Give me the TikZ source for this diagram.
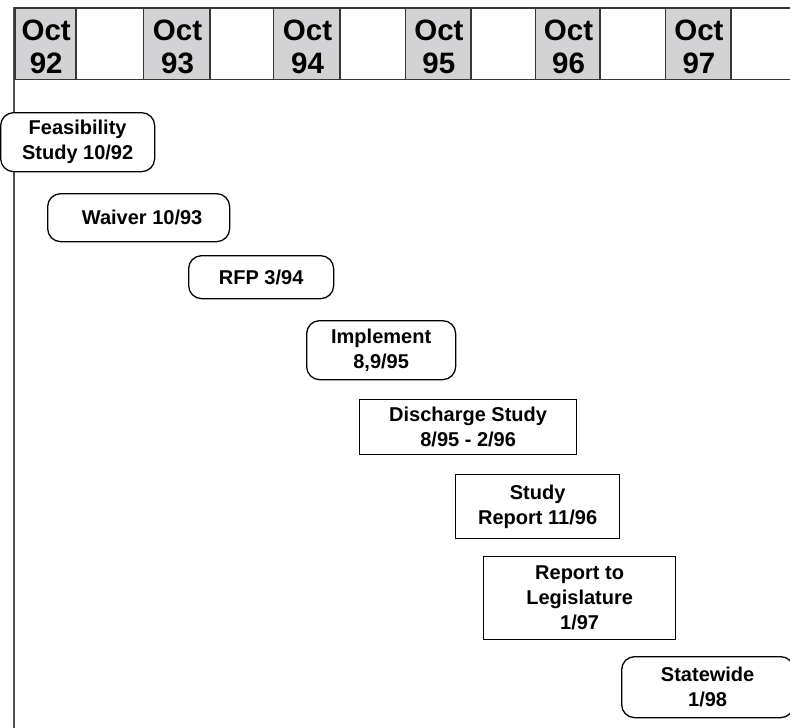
\documentclass[tikz,border=0pt]{standalone}
\usepackage{fontspec}
\setmainfont{Liberation Sans}
\definecolor{hdrgray}{RGB}{211,211,213}
\definecolor{linegray}{RGB}{55,55,55}
\definecolor{axisgray}{RGB}{80,80,80}
\tikzset{
  hcell/.style={draw=linegray, line width=1.5pt, anchor=north west, minimum height=71.5pt, inner sep=0pt},
  gcell/.style={hcell, fill=hdrgray},
  wcell/.style={hcell, fill=white},
  htext/.style={inner sep=0pt, align=center, yshift=-3.5pt, xshift=0.8pt,
    font=\fontsize{29.5}{32.7}\selectfont\bfseries},
  boxtext/.style={inner sep=0pt, align=center, anchor=north west, fill=white, draw=black, line width=1.3pt,
    font=\fontsize{20}{25}\selectfont\bfseries},
  rbox/.style={boxtext, rounded corners=13pt},
  sbox/.style={boxtext},
}
\begin{document}
\begin{tikzpicture}[x=1pt,y=-1pt]
\useasboundingbox (0,0) rectangle (790,728);
\fill[white] (0,0) rectangle (790,728);
% vertical axis line
\coordinate (axtop) at (14,7);
\coordinate (axbot) at (14,728);
\draw[axisgray, line width=2.8pt] (axtop) -- (axbot);
% header cells
\node[gcell, minimum width=61.3pt] (h92) at (14,7) {};
\node[wcell, minimum width=67.4pt] (w92) at (75.3,7) {};
\node[gcell, minimum width=66.6pt] (h93) at (142.7,7) {};
\node[wcell, minimum width=63.4pt] (w93) at (209.3,7) {};
\node[gcell, minimum width=66.6pt] (h94) at (272.7,7) {};
\node[wcell, minimum width=65.4pt] (w94) at (339.3,7) {};
\node[gcell, minimum width=65.3pt] (h95) at (404.7,7) {};
\node[wcell, minimum width=64.7pt] (w95) at (470,7) {};
\node[gcell, minimum width=64.6pt] (h96) at (534.7,7) {};
\node[wcell, minimum width=65.4pt] (w96) at (599.3,7) {};
\node[gcell, minimum width=65.3pt] (h97) at (664.7,7) {};
\node[wcell, minimum width=75pt] (w97) at (730,7) {};
\node[htext] (t92) at (h92.center) {Oct\\92};
\node[htext] (t93) at (h93.center) {Oct\\93};
\node[htext] (t94) at (h94.center) {Oct\\94};
\node[htext] (t95) at (h95.center) {Oct\\95};
\node[htext] (t96) at (h96.center) {Oct\\96};
\node[htext] (t97) at (h97.center) {Oct\\97};
% milestone boxes
\node[rbox, minimum width=154pt, minimum height=59pt] (feas) at (0,112) {Feasibility\\Study 10/92};
\node[rbox, minimum width=182pt, minimum height=48pt] (waiver) at (47,193) {\hspace{7pt}Waiver 10/93};
\node[rbox, minimum width=145pt, minimum height=43pt] (rfp) at (188,255) {RFP 3/94};
\node[rbox, minimum width=149pt, minimum height=59pt] (impl) at (306,320) {Implement\\8,9/95};
\node[sbox, minimum width=217pt, minimum height=55pt] (disch) at (359,399) {Discharge Study\\8/95 - 2/96};
\node[sbox, minimum width=164pt, minimum height=64pt] (srep) at (455,474) {Study\\Report 11/96};
\node[sbox, minimum width=192pt, minimum height=83pt] (legis) at (483,556) {Report to\\Legislature\\1/97};
\node[rbox, minimum width=172pt, minimum height=61pt] (state) at (621,656) {Statewide\\1/98};
\end{tikzpicture}
\end{document}
